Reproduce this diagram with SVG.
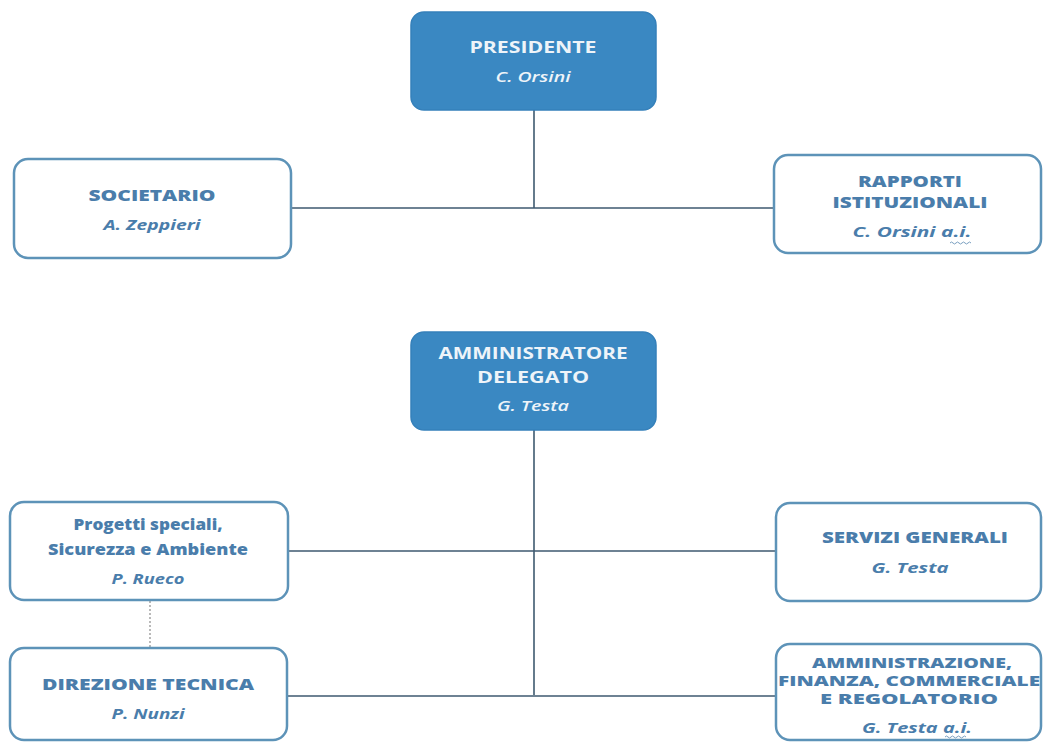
<svg xmlns="http://www.w3.org/2000/svg" width="1044" height="742" viewBox="0 0 1044 742">
<style>
.top{fill:#3a88c2;stroke:#3580ba;stroke-width:1.5}
.box{fill:#fff;stroke:#5d93b8;stroke-width:2.5}
text{font-family:"Open Sans",Lato,sans-serif;text-anchor:middle}
.tw{font-weight:bold;font-size:16px;fill:#eef4f9}
.iw{font-style:italic;font-weight:600;font-size:15px;fill:#eef4f9}
.tb{font-weight:800;font-size:16px;fill:#4a7dab}
.ts{font-weight:800;font-size:14px;fill:#4a7dab}
.ib{font-weight:bold;font-style:italic;font-size:15px;fill:#4a7dab}
.ln{stroke:#3f5a70;stroke-width:1.6;fill:none}
.dot{stroke:#b9b9b9;stroke-width:2;stroke-dasharray:2 2;fill:none}
.sq{stroke:#7a9fc0;stroke-width:1;fill:none}
</style>
<rect width="1044" height="742" fill="#fff"/>
<g id="connectors">
<path class="ln" d="M534 110 V208 M291 208 H774"/>
<path class="ln" d="M534 430 V695 M288 551 H776 M287 696 H776"/>
<path class="dot" d="M150 601 V647"/>
</g>
<g id="presidente">
<rect class="top" x="411" y="12" width="245" height="98" rx="13"/>
<text class="tw" x="533" y="53" textLength="127" lengthAdjust="spacingAndGlyphs">PRESIDENTE</text>
<text class="iw" x="533" y="82" textLength="75" lengthAdjust="spacingAndGlyphs">C. Orsini</text>
</g>
<g id="societario">
<rect class="box" x="14" y="159" width="277" height="99" rx="14"/>
<text class="tb" x="152" y="201" textLength="127" lengthAdjust="spacingAndGlyphs">SOCIETARIO</text>
<text class="ib" x="152" y="230" textLength="97" lengthAdjust="spacingAndGlyphs">A. Zeppieri</text>
</g>
<g id="rapporti">
<rect class="box" x="774" y="155" width="267" height="98" rx="14"/>
<text class="tb" x="910" y="187" textLength="104" lengthAdjust="spacingAndGlyphs">RAPPORTI</text>
<text class="tb" x="910" y="208" textLength="155" lengthAdjust="spacingAndGlyphs">ISTITUZIONALI</text>
<text class="ib" x="912" y="237" textLength="119" lengthAdjust="spacingAndGlyphs">C. Orsini a.i.</text>
<path class="sq" d="M950 243 q1.5 -2 3 0 t3 0 t3 0 t3 0 t3 0 t3 0 t3 0"/>
</g>
<g id="amministratore">
<rect class="top" x="411" y="332" width="245" height="98" rx="13"/>
<text class="tw" x="533" y="359" textLength="189" lengthAdjust="spacingAndGlyphs">AMMINISTRATORE</text>
<text class="tw" x="533" y="383" textLength="112" lengthAdjust="spacingAndGlyphs">DELEGATO</text>
<text class="iw" x="533" y="411" textLength="72" lengthAdjust="spacingAndGlyphs">G. Testa</text>
</g>
<g id="progetti">
<rect class="box" x="10" y="502" width="278" height="98" rx="14"/>
<text class="tb" x="148" y="530" textLength="149" lengthAdjust="spacingAndGlyphs">Progetti speciali,</text>
<text class="tb" x="148" y="555" textLength="200" lengthAdjust="spacingAndGlyphs">Sicurezza e Ambiente</text>
<text class="ib" x="148" y="584" textLength="73" lengthAdjust="spacingAndGlyphs">P. Rueco</text>
</g>
<g id="servizi">
<rect class="box" x="776" y="503" width="265" height="98" rx="14"/>
<text class="tb" x="915" y="543" textLength="186" lengthAdjust="spacingAndGlyphs">SERVIZI GENERALI</text>
<text class="ib" x="910" y="573" textLength="77" lengthAdjust="spacingAndGlyphs">G. Testa</text>
</g>
<g id="direzione">
<rect class="box" x="10" y="648" width="277" height="92" rx="14"/>
<text class="tb" x="148" y="690" textLength="212" lengthAdjust="spacingAndGlyphs">DIREZIONE TECNICA</text>
<text class="ib" x="148" y="719" textLength="73" lengthAdjust="spacingAndGlyphs">P. Nunzi</text>
</g>
<g id="amministrazione">
<rect class="box" x="776" y="644" width="265" height="96" rx="14"/>
<text class="ts" x="912" y="668" textLength="200" lengthAdjust="spacingAndGlyphs">AMMINISTRAZIONE,</text>
<text class="ts" x="909" y="686" textLength="262" lengthAdjust="spacingAndGlyphs">FINANZA, COMMERCIALE</text>
<text class="ts" x="909" y="704" textLength="178" lengthAdjust="spacingAndGlyphs">E REGOLATORIO</text>
<text class="ib" x="917" y="733" textLength="110" lengthAdjust="spacingAndGlyphs">G. Testa a.i.</text>
<path class="sq" d="M945 737 q1.5 -2 3 0 t3 0 t3 0 t3 0 t3 0 t3 0 t3 0"/>
</g>
</svg>
